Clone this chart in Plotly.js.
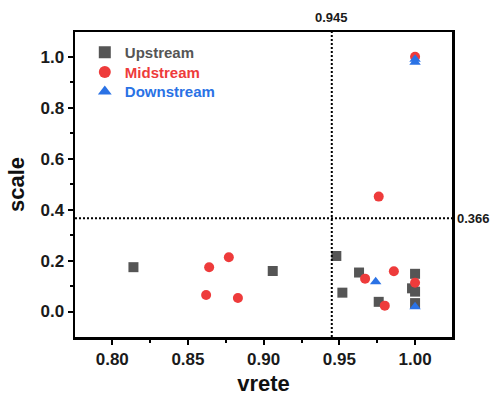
<!DOCTYPE html>
<html>
<head>
<meta charset="utf-8">
<script src="https://cdn.plot.ly/plotly-3.0.1.min.js"></script>
<style>html,body{margin:0;padding:0;background:#fff;}#chart{width:497px;height:403px;}</style>
</head>
<body>
<div id="chart"></div>
<script>
// Series names
const seriesNames = ["Upstream", "Midstream", "Downstream"];

// Upstream (grey squares)
const upX = [0.814, 0.906, 0.948, 0.963, 0.952, 0.976, 1.000, 0.998, 1.000, 1.000];
const upY = [0.174, 0.159, 0.218, 0.153, 0.074, 0.038, 0.148, 0.091, 0.078, 0.033];

// Midstream (red circles)
const midX = [0.877, 0.864, 0.862, 0.883, 0.976, 0.967, 0.986, 1.000, 0.980, 1.000];
const midY = [0.213, 0.174, 0.065, 0.053, 0.451, 0.129, 0.158, 0.113, 0.023, 1.000];

// Downstream (blue triangles)
const downX = [0.974, 1.000, 1.000, 1.000];
const downY = [0.117, 0.019, 0.990, 0.978];

// Threshold lines
const xThreshold = 0.945;
const yThreshold = 0.366;

const colors = ["#555555", "#EE3B3B", "#2A72E5"];
const symbols = ["square", "circle", "triangle-up"];
const legendIds = ["legend", "legend2", "legend3"];
const FONT = "Liberation Sans, Arial, sans-serif";

function mk(i, xs, ys) {
  return {
    type: "scatter", mode: "markers", x: xs, y: ys,
    legend: legendIds[i],
    name: '<span style="color:' + colors[i] + '">' + seriesNames[i] + '</span>',
    marker: {symbol: symbols[i], color: colors[i], size: 10, line: {width: 0}}
  };
}

const data = [mk(0, upX, upY), mk(1, midX, midY), mk(2, downX, downY)];

function leg(yc) {
  return {
    x: 0.026, y: yc, xanchor: "left", yanchor: "middle",
    bgcolor: "rgba(0,0,0,0)", itemsizing: "constant",
    font: {family: FONT, size: 15, weight: "bold"}
  };
}

const axisCommon = {
  showline: true, mirror: true, linecolor: "#000", linewidth: 2.5,
  ticks: "outside", ticklen: 5, tickwidth: 2, tickcolor: "#000",
  showgrid: false, zeroline: false,
  tickfont: {family: FONT, size: 17, color: "#1a1a1a", weight: "bold"}
};

const layout = {
  width: 497, height: 403,
  margin: {l: 75, r: 45, t: 32, b: 66},
  paper_bgcolor: "#fff", plot_bgcolor: "#fff",
  showlegend: true,
  legend: leg(0.933),
  legend2: leg(0.868),
  legend3: leg(0.804),
  xaxis: Object.assign({}, axisCommon, {
    range: [0.7754, 1.0244], tickvals: [0.80, 0.85, 0.90, 0.95, 1.00],
    ticktext: ["0.80", "0.85", "0.90", "0.95", "1.00"],
    minor: {tickvals: [0.825, 0.875, 0.925, 0.975], ticks: "outside", ticklen: 3, tickwidth: 2, tickcolor: "#000"},
    title: {text: "vrete", standoff: 8, font: {family: FONT, size: 22, color: "#111", weight: "bold"}}
  }),
  yaxis: Object.assign({}, axisCommon, {
    range: [-0.1, 1.097], tickvals: [0.0, 0.2, 0.4, 0.6, 0.8, 1.0],
    ticktext: ["0.0", "0.2", "0.4", "0.6", "0.8", "1.0"],
    minor: {tickvals: [0.1, 0.3, 0.5, 0.7, 0.9], ticks: "outside", ticklen: 3, tickwidth: 2, tickcolor: "#000"},
    title: {text: "scale", standoff: 10, font: {family: FONT, size: 22, color: "#111", weight: "bold"}}
  }),
  shapes: [
    {type: "line", xref: "x", yref: "paper", x0: xThreshold, x1: xThreshold, y0: 0, y1: 1,
     line: {color: "#000", width: 2, dash: "2px,2px"}},
    {type: "line", xref: "paper", yref: "y", x0: 0, x1: 1, y0: yThreshold, y1: yThreshold,
     line: {color: "#000", width: 2, dash: "2px,2px"}}
  ],
  annotations: [
    {x: xThreshold, xref: "x", y: 1, yref: "paper", yanchor: "bottom", yshift: 5, showarrow: false,
     text: String(xThreshold), font: {family: FONT, size: 13, color: "#1a1a1a", weight: "bold"}},
    {x: 1, xref: "paper", xanchor: "left", xshift: 3, y: yThreshold, yref: "y", showarrow: false,
     text: String(yThreshold), font: {family: FONT, size: 13, color: "#1a1a1a", weight: "bold"}}
  ]
};

Plotly.newPlot("chart", data, layout, {displayModeBar: false, staticPlot: true});
</script>
</body>
</html>
